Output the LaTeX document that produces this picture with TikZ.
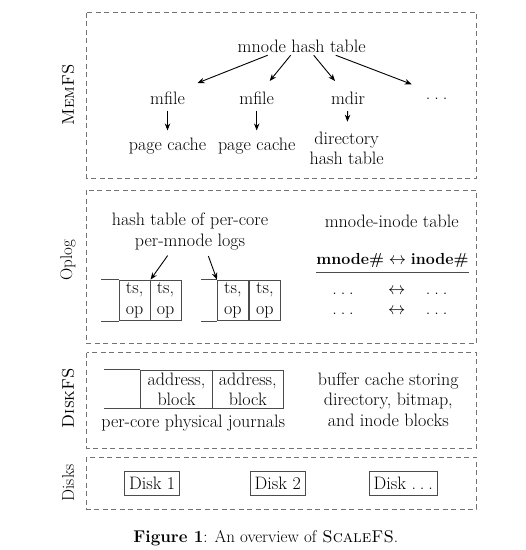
\documentclass[tikz,border=0pt]{standalone}
\usepackage{fontspec}
\usetikzlibrary{arrows.meta}
\newcommand{\figfont}{\fontsize{18}{20.5}\selectfont}
\newcommand{\spdots}{.\kern0.22em.\kern0.22em.}
\tikzset{
  every node/.style={font=\figfont, inner sep=2pt},
  layer/.style={draw=black!55, dash pattern=on 5pt off 3.5pt, line width=0.8pt},
  layerlabel/.style={rotate=90, font=\fontsize{17}{20}\selectfont},
  item/.style={align=center},
  logline/.style={draw=black!70, line width=0.8pt},
  cell/.style={logline, minimum width=31pt, minimum height=40.7pt, inner sep=0pt, align=center},
  jcell/.style={cell, minimum width=71.3pt, minimum height=38.3pt},
  disk/.style={logline, minimum height=24pt, inner xsep=4.5pt, inner ysep=0pt},
  ptr/.style={-{Stealth[length=7pt,width=5.5pt]}, line width=0.9pt}
}

\begin{document}
\begin{tikzpicture}[x=1pt, y=-1pt]
  \useasboundingbox (0,0) rectangle (526,550);

  % layers
  \foreach \ya/\yb in {12.7/178, 190/343.3, 352.7/448.3, 457.3/509.3} {
    \draw[layer] (86.7,\ya) rectangle (476.7,\yb);
  }
  \foreach \n/\y/\t in {memfs/95/\textsc{MemFS}, oplog/260/Oplog,
                        diskfs/398/\textsc{DiskFS}, disks/483/Disks} {
    \node[layerlabel] (lbl\n) at (68,\y) {\t};
  }

  % MemFS
  \node (hash) at (301.7,46.7) {mnode hash table};
  \node (mfile1) at (167.5,98) {mfile};
  \node (mfile2) at (256.7,98) {mfile};
  \node (mdir) at (348,98) {mdir};
  \node[anchor=base] (more) at (436.7,99) {\spdots};
  \node (pc1) at (167.5,145.7) {page cache};
  \node (pc2) at (256.7,145.7) {page cache};
  \node[item, anchor=north] (dirht) at (346.7,129.7) {directory\\hash table};

  \draw[ptr] ([xshift=-34pt]hash.south) -- ([xshift=30pt,yshift=15pt]mfile1.center);
  \draw[ptr] ([xshift=-11pt]hash.south) -- ([xshift=13pt,yshift=17pt]mfile2.center);
  \draw[ptr] ([xshift=12pt]hash.south) -- ([xshift=-13pt,yshift=17pt]mdir.center);
  \draw[ptr] ([xshift=34pt]hash.south) -- ([xshift=-25pt,yshift=14pt]more.center);
  \draw[ptr, shorten <=4pt, shorten >=5pt] (mfile1) -- (pc1);
  \draw[ptr, shorten <=4pt, shorten >=5pt] (mfile2) -- (pc2);
  \draw[ptr, shorten <=4.5pt, shorten >=8pt] (mdir) -- (dirht);

  % Oplog
  \node[item] (logs) at (190,231.7) {hash table of per-core\\per-mnode logs};
  \node[cell] (c1) at (134.65,300.35) {ts,\\op};
  \node[cell] (c2) at (165.5,300.35) {ts,\\op};
  \node[cell] (c3) at (232.85,300.35) {ts,\\op};
  \node[cell] (c4) at (264.85,300.35) {ts,\\op};
  \draw[logline] (c1.north west) -- ++(-17.6,0);
  \draw[logline] (c1.south west) -- ++(-17.6,0);
  \draw[logline] (c3.north west) -- ++(-16,0);
  \draw[logline] (c3.south west) -- ++(-16,0);
  \draw[ptr, shorten <=4pt] ([xshift=-20pt]logs.south) -- (c1.north east);
  \draw[ptr, shorten <=4pt] ([xshift=17pt]logs.south) -- (c3.north west);

  \node (mitab) at (391.7,221.7) {mnode-inode table};
  \node[inner xsep=0pt, font=\fontsize{16}{20}\selectfont] (mihead) at (392.5,260)
    {\textbf{mnode\#} $\leftrightarrow$ \textbf{inode\#}};
  \draw[logline] ([yshift=-3pt]mihead.south west) -- ([yshift=-3pt]mihead.south east);
  \foreach \r/\y in {1/294, 2/314.5} {
    \node[anchor=base] (row\r l) at (343,\y) {\spdots};
    \node[anchor=base, font=\fontsize{16}{20}\selectfont] (row\r m) at (396.7,\y) {$\leftrightarrow$};
    \node[anchor=base] (row\r r) at (436.7,\y) {\spdots};
  }

  % DiskFS
  \node[jcell] (j1) at (176.5,389.15) {address,\\block};
  \node[jcell] (j2) at (247.8,389.15) {address,\\block};
  \draw[logline] (j1.north west) -- ++(-36.4,0);
  \draw[logline] (j1.south west) -- ++(-36.4,0);
  \node (jlabel) at (193.3,423.3) {per-core physical journals};
  \node[item] (bufc) at (388.3,399.5) {buffer cache storing\\directory, bitmap,\\and inode blocks};

  % Disks
  \foreach \n/\x/\t in {1/152.2/Disk 1, 2/277.8/Disk 2, 3/403.3/Disk \spdots} {
    \node[disk] (disk\n) at (\x,483) {\t};
  }

  \node[font=\fontsize{17}{20}\selectfont] (caption) at (265.8,538.3)
    {\textbf{Figure 1}: An overview of \textsc{ScaleFS}.};
\end{tikzpicture}
\end{document}
